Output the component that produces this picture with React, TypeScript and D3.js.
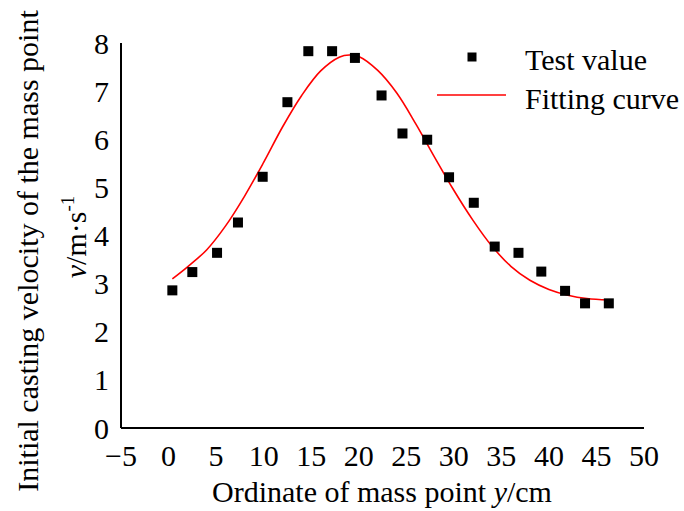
import React from "react";
import * as d3 from "d3";

const testX = [0.4, 2.5, 5.1, 7.3, 9.9, 12.5, 14.7, 17.2, 19.6, 22.4, 24.6, 27.2, 29.5, 32.1, 34.3, 36.8, 39.2, 41.7, 43.8, 46.3];
const testY = [2.86, 3.24, 3.64, 4.27, 5.22, 6.77, 7.83, 7.83, 7.69, 6.91, 6.12, 5.99, 5.21, 4.68, 3.77, 3.64, 3.25, 2.85, 2.59, 2.59];

const fitX = [0.4, 2, 4, 6, 8, 10, 12, 14, 16, 18, 19, 20, 22, 24, 26, 28, 30, 32, 34, 36, 38, 40, 42, 44, 46.3];
const fitY = [3.10, 3.35, 3.70, 4.20, 4.82, 5.52, 6.26, 6.91, 7.42, 7.71, 7.75, 7.72, 7.43, 6.96, 6.32, 5.62, 4.94, 4.32, 3.78, 3.36, 3.07, 2.88, 2.76, 2.69, 2.66];

const xTicks = [-5, 0, 5, 10, 15, 20, 25, 30, 35, 40, 45, 50];
const yTicks = [0, 1, 2, 3, 4, 5, 6, 7, 8];

const W = 684;
const H = 511;
const FONT = "Liberation Serif, DejaVu Serif, serif";

export default function App() {
  const x = d3.scaleLinear().domain([-5, 50]).range([121, 644]);
  const y = d3.scaleLinear().domain([0, 8]).range([428, 43]);

  const line = d3
    .line<number>()
    .x((_, i) => x(fitX[i]))
    .y((d) => y(d))
    .curve(d3.curveCatmullRom.alpha(0.5));

  const fs = 30;
  const ms = 10;
  const ts = { fontFamily: FONT };

  return (
    <svg
      width={W}
      height={H}
      style={{ position: "absolute", left: 0, top: 0, background: "#fff", fontFamily: FONT }}
    >
      <rect x={0} y={0} width={W} height={H} fill="#fff" />
      <line x1={x(-5)} x2={x(-5)} y1={y(8)} y2={y(0)} stroke="#000" strokeWidth={2} />
      <line x1={x(-5)} x2={x(50)} y1={y(0)} y2={y(0)} stroke="#000" strokeWidth={2} />

      {xTicks.map((t) => (
        <text key={"xt" + t} x={x(t)} y={466} fontSize={fs} textAnchor="middle" fill="#000" style={ts}>
          {t < 0 ? "\u2212" + Math.abs(t) : String(t)}
        </text>
      ))}
      {yTicks.map((t) => (
        <text key={"yt" + t} x={109} y={y(t)} dy="0.35em" fontSize={fs} textAnchor="end" fill="#000" style={ts}>
          {t}
        </text>
      ))}

      <text x={382} y={502} fontSize={fs} textAnchor="middle" fill="#000" style={ts}>
        Ordinate of mass point <tspan fontStyle="italic">y</tspan>/cm
      </text>
      <text transform="translate(38,251) rotate(-90)" fontSize={fs} textAnchor="middle" fill="#000" style={ts}>
        Initial casting velocity of the mass point
      </text>
      <text transform="translate(86,237) rotate(-90)" fontSize={fs} textAnchor="middle" fill="#000" style={ts}>
        <tspan fontStyle="italic">v</tspan>/m·s
        <tspan fontSize={19} dy={-12}>-1</tspan>
      </text>

      <path d={line(fitY) || ""} fill="none" stroke="#ff0000" strokeWidth={1.6} />

      {testY.map((v, i) => (
        <rect
          key={"p" + i}
          x={x(testX[i]) - ms / 2}
          y={y(v) - ms / 2}
          width={ms}
          height={ms}
          fill="#000"
        />
      ))}

      <rect x={472 - 4.5} y={57 - 4.5} width={9} height={9} fill="#000" />
      <text x={525} y={59} dy="0.35em" fontSize={fs} fill="#000" style={ts}>
        Test value
      </text>
      <line x1={437} x2={506} y1={95} y2={95} stroke="#ff0000" strokeWidth={1.6} />
      <text x={525} y={98} dy="0.35em" fontSize={fs} fill="#000" style={ts}>
        Fitting curve
      </text>
    </svg>
  );
}
